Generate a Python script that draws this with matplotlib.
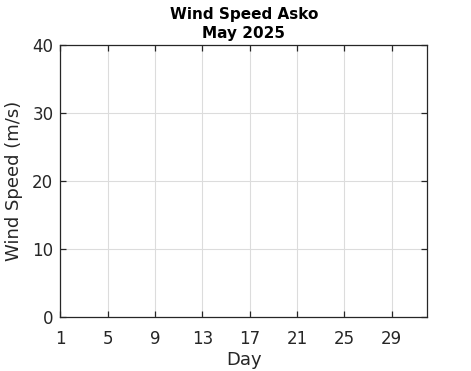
import numpy as np
import matplotlib
matplotlib.use("Agg")
import matplotlib.pyplot as plt

# no measurements for this month -> empty series
days = np.array([])
wind_speed = np.array([])

x_ticks = [1, 5, 9, 13, 17, 21, 25, 29]
y_ticks = [0, 10, 20, 30, 40]

fig = plt.figure(figsize=(4.71, 3.71), dpi=100)
ax = fig.add_axes([60.3 / 471, 1 - 317.3 / 371, 367 / 471, 272 / 371])

ax.plot(days, wind_speed, color='#0072bd', linewidth=1)

ax.set_xlim(1, 32)
ax.set_ylim(0, 40)
ax.set_xticks(x_ticks)
ax.set_yticks(y_ticks)

dark = '#262626'
ax.grid(True, color='#dcdcdc', linewidth=0.8)
ax.set_axisbelow(True)
for s in ax.spines.values():
    s.set_color(dark)
    s.set_linewidth(0.9)
ax.tick_params(direction='in', top=True, right=True, length=4, width=0.9,
               colors=dark, labelsize=12)
ax.tick_params(axis='x', pad=9)
ax.tick_params(axis='y', pad=5)

ax.set_xlabel('Day', fontsize=13, color=dark, labelpad=2)
ax.set_ylabel('Wind Speed (m/s)', fontsize=13, color=dark, labelpad=7)
ax.set_title('Wind Speed Asko\nMay 2025', fontsize=11, fontweight='bold',
             color='black', pad=5, linespacing=1.35)

fig.savefig('out.png', dpi=100)
